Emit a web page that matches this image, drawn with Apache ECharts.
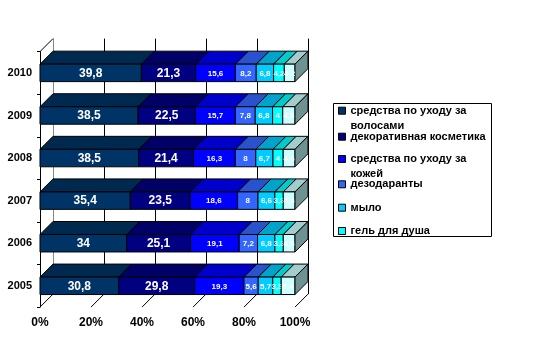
<!DOCTYPE html>
<html>
<head>
<meta charset="utf-8">
<script src="https://cdn.jsdelivr.net/npm/echarts@6/dist/echarts.min.js"></script>
<style>
  html, body { margin: 0; padding: 0; background: #fff; }
  #chart { width: 537px; height: 347px; }
</style>
</head>
<body>
<div id="chart"></div>
<script>
// Structure of cosmetics sales by segment, 2005–2010 (shares, %)
const years = ['2005', '2006', '2007', '2008', '2009', '2010'];
const segmentNames = [
  'средства по уходу за волосами',
  'декоративная косметика',
  'средства по уходу за кожей',
  'дезодаранты',
  'мыло',
  'гель для душа',
  'прочее'
];
const hairCare   = [30.8, 34.0, 35.4, 38.5, 38.5, 39.8];
const decorative = [29.8, 25.1, 23.5, 21.4, 22.5, 21.3];
const skinCare   = [19.3, 19.1, 18.6, 16.3, 15.7, 15.6];
const deodorants = [5.6, 7.2, 8.0, 8.0, 7.8, 8.2];
const soap       = [5.7, 6.8, 6.6, 6.7, 6.8, 6.8];
const showerGel  = [3.3, 3.3, 3.3, 4.0, 4.0, 4.2];
const other      = [5.4, 4.6, 4.6, 4.6, 4.8, 4.2];
const xTicks = [0, 20, 40, 60, 80, 100];

const segmentValues = [hairCare, decorative, skinCare, deodorants, soap, showerGel, other];

// face colours: front, top, and the end cap of the bar
const frontColors = ['#003366', '#000080', '#0000FF', '#3366FF', '#00CCFF', '#00FFFF', '#CCFFFF'];
const topColors   = ['#002950', '#000066', '#0000CC', '#2952CC', '#00A3CC', '#00CCCC', '#A3CCCC'];
const sideColor = '#6E9191';
const DEPTH = 13;
const FONT = 'Liberation Sans, Arial, sans-serif';

// 100% stacking: cumulative start/end share for every segment in every year
const rowTotals = years.map((_, i) => segmentValues.reduce((s, arr) => s + arr[i], 0));
const stacked = segmentValues.map(() => []);
years.forEach((_, i) => {
  let acc = 0;
  segmentValues.forEach((arr, k) => {
    const start = acc / rowTotals[i] * 100;
    acc += arr[i];
    const end = acc / rowTotals[i] * 100;
    stacked[k].push([i, start, end, arr[i]]);
  });
});

function fmt(v) {
  return String(v).replace('.', ',');
}

function makeBarSeries(k) {
  const isLast = k === segmentValues.length - 1;
  return {
    type: 'custom',
    name: segmentNames[k],
    xAxisIndex: 0,
    yAxisIndex: 0,
    clip: false,
    itemStyle: { color: frontColors[k] },
    encode: { x: [1, 2], y: 0 },
    data: stacked[k],
    renderItem: function (params, api) {
      const yi = api.value(0);
      const a = api.coord([api.value(1), yi]);
      const b = api.coord([api.value(2), yi]);
      const bh = api.size([0, 1])[1] * 0.41;
      const x0 = a[0], x1 = b[0];
      const yt = a[1] - bh / 2, yb = a[1] + bh / 2;
      const stroke = { stroke: '#000', lineWidth: 1 };
      const children = [
        {
          type: 'polygon',
          shape: { points: [[x0, yt], [x1, yt], [x1 + DEPTH, yt - DEPTH], [x0 + DEPTH, yt - DEPTH]] },
          style: Object.assign({ fill: topColors[k] }, stroke)
        },
        {
          type: 'rect',
          shape: { x: x0, y: yt, width: x1 - x0, height: bh },
          style: Object.assign({ fill: frontColors[k] }, stroke)
        }
      ];
      if (isLast) {
        children.push({
          type: 'polygon',
          shape: { points: [[x1, yt], [x1 + DEPTH, yt - DEPTH], [x1 + DEPTH, yb - DEPTH], [x1, yb]] },
          style: Object.assign({ fill: sideColor }, stroke)
        });
      }
      const big = k < 2;
      children.push({
        type: 'text',
        style: {
          text: fmt(api.value(3)),
          x: (x0 + x1) / 2,
          y: a[1] + 0.5,
          align: 'center',
          verticalAlign: 'middle',
          fill: '#fff',
          fontFamily: FONT,
          fontWeight: 'bold',
          fontSize: big ? 12 : 8
        }
      });
      return { type: 'group', children: children };
    }
  };
}

// floor ticks receding into depth, plus the top edge of the side wall
const floorSeries = {
  type: 'custom',
  xAxisIndex: 0,
  yAxisIndex: 0,
  clip: false,
  silent: true,
  data: xTicks.map(t => [t]),
  encode: { x: 0 },
  renderItem: function (params, api) {
    const cs = params.coordSys;
    const p = api.coord([api.value(0), 0]);
    const bottom = cs.y + cs.height;
    const children = [{
      type: 'line',
      shape: { x1: p[0], y1: bottom, x2: p[0] + DEPTH, y2: bottom - DEPTH },
      style: { stroke: '#000', lineWidth: 1 }
    }];
    if (params.dataIndex === 0) {
      children.push({
        type: 'line',
        shape: { x1: p[0], y1: cs.y, x2: p[0] + DEPTH, y2: cs.y - DEPTH },
        style: { stroke: '#000', lineWidth: 1 }
      });
    }
    return { type: 'group', children: children };
  }
};

// legend: one block per entry; wrapped names get a blank leading line so
// the marker (centred on the text block) sits beside their first line
const legendCenters = [110.7, 136.7, 159, 184.3, 207.7, 231];
const legends = segmentNames.slice(0, 6).map((name, k) => {
  const wrapped = name.indexOf(' за ') > 0;
  return {
    data: [name],
    left: 338,
    top: wrapped ? legendCenters[k] - 22.5 : legendCenters[k] - 7.5,
    orient: 'vertical',
    padding: 0,
    icon: 'rect',
    itemWidth: 7,
    itemHeight: 7,
    selectedMode: false,
    itemStyle: { borderColor: '#000', borderWidth: 1 },
    formatter: n => (n.indexOf(' за ') > 0 ? ' \n' + n.replace(' за ', ' за\n') : n),
    textStyle: {
      color: '#000',
      fontFamily: FONT,
      fontWeight: 'bold',
      fontSize: 11,
      lineHeight: 15
    }
  };
});

const FRONT_TOP = 51.6, PLOT_H = 255.5, PLOT_W = 255;

const option = {
  animation: false,
  backgroundColor: '#fff',
  legend: legends,
  graphic: [{
    type: 'rect',
    shape: { x: 333.5, y: 103.5, width: 158, height: 133 },
    style: { fill: '#fff', stroke: '#000', lineWidth: 1 },
    z: -1
  }],
  grid: [
    { left: 40, top: FRONT_TOP, width: PLOT_W, height: PLOT_H },
    { left: 40 + DEPTH, top: FRONT_TOP - DEPTH, width: PLOT_W, height: PLOT_H }
  ],
  xAxis: [
    {
      gridIndex: 0,
      type: 'value',
      min: 0,
      max: 100,
      interval: 20,
      axisLine: { show: false },
      axisTick: { show: false },
      splitLine: { show: false },
      axisLabel: {
        formatter: '{value}%',
        color: '#000',
        fontFamily: FONT,
        fontWeight: 'bold',
        fontSize: 12,
        margin: 10
      }
    },
    {
      gridIndex: 1,
      type: 'value',
      min: 0,
      max: 100,
      interval: 20,
      axisLine: { show: false },
      axisTick: { show: false },
      axisLabel: { show: false },
      splitLine: {
        show: true,
        lineStyle: { color: ['#888', '#000', '#000', '#000', '#000', '#000'], width: 1 }
      }
    }
  ],
  yAxis: [
    {
      gridIndex: 0,
      type: 'category',
      data: years,
      axisLine: { show: true, lineStyle: { color: '#000', width: 1 } },
      axisTick: { show: true, length: 3, lineStyle: { color: '#000' } },
      splitLine: { show: false },
      axisLabel: {
        color: '#000',
        fontFamily: FONT,
        fontWeight: 'bold',
        fontSize: 11,
        margin: 8
      }
    },
    {
      gridIndex: 1,
      type: 'category',
      data: years,
      axisLine: { show: false },
      axisTick: { show: false },
      axisLabel: { show: false },
      splitLine: { show: false }
    }
  ],
  series: [floorSeries].concat(segmentValues.map((_, k) => makeBarSeries(k)))
};

const chart = echarts.init(document.getElementById('chart'), null, { renderer: 'canvas' });
chart.setOption(option);
</script>
</body>
</html>
